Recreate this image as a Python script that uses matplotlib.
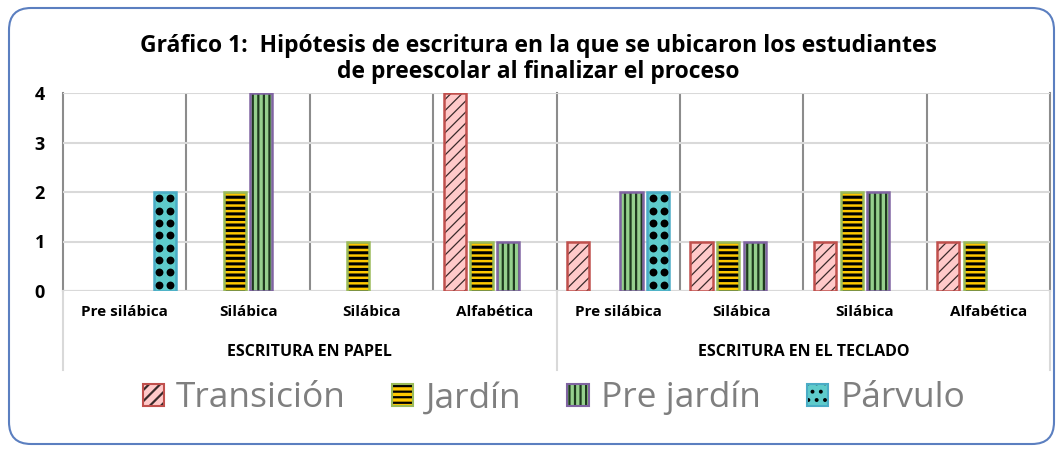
import numpy as np
import matplotlib
matplotlib.use("Agg")
import matplotlib.pyplot as plt
from matplotlib.patches import FancyBboxPatch, Patch
from matplotlib.lines import Line2D
from matplotlib.legend_handler import HandlerTuple
import matplotlib.transforms as mtransforms

# ---- data ----
categories = ["Pre silábica", "Silábica", "Silábica", "Alfabética",
              "Pre silábica", "Silábica", "Silábica", "Alfabética"]
groups = ["ESCRITURA EN PAPEL", "ESCRITURA EN EL TECLADO"]
series_names = ["Transición", "Jardín", "Pre jardín", "Párvulo"]
transicion = [0, 0, 0, 4, 1, 1, 1, 1]
jardin = [0, 2, 1, 1, 0, 1, 2, 1]
pre_jardin = [0, 4, 0, 1, 2, 1, 2, 0]
parvulo = [2, 0, 0, 0, 2, 0, 0, 0]
y_ticks = [0, 1, 2, 3, 4]
title = ("Gráfico 1:  Hipótesis de escritura en la que se ubicaron los estudiantes\n"
         "de preescolar al finalizar el proceso")

# ---- styles ----
fills = ["#ffc9c9", "#ffc800", "#96d08e", "#5ecbcb"]
borders = ["#c0504d", "#9bbb59", "#8064a2", "#4bacc6"]
hatch_colors = ["#3a2a2a", "#000000", "#1e3a1e", "#000000"]
hatches = ["///", "---", "|||", None]
hatch_lw = [0.9, 2.2, 1.6, 1.0]

plt.rcParams["font.family"] = ["Open Sans", "DejaVu Sans"]
plt.rcParams["hatch.linewidth"] = 1.6


def set_hatch_lw(patch, lw):
    if hasattr(patch, "set_hatch_linewidth"):
        patch.set_hatch_linewidth(lw)


W, H = 1063, 453
fig = plt.figure(figsize=(W / 100, H / 100), dpi=100)
ax = fig.add_axes([63 / W, (H - 291) / H, (1050 - 63) / W, (291 - 93) / H])

x = np.arange(len(categories))
pitch, width = 0.216, 0.18
offsets = (np.arange(4) - 1.5) * pitch
data = [transicion, jardin, pre_jardin, parvulo]

for i, vals in enumerate(data):
    vals = np.asarray(vals, dtype=float)
    keep = vals > 0
    xs = x[keep] + offsets[i]
    hs = vals[keep]
    bars = ax.bar(xs, hs, width=width, color=fills[i], edgecolor=hatch_colors[i],
                  hatch=hatches[i], linewidth=0, zorder=3)
    for p in bars:
        set_hatch_lw(p, hatch_lw[i])
    ax.bar(xs, hs, width=width, fill=False, edgecolor=borders[i],
           linewidth=1.8, zorder=4)
    if hatches[i] is None:
        # dotted pattern for the Párvulo bars
        for xc, h in zip(xs, hs):
            ys = np.arange(0.125, h, 0.25)
            for dx in (-0.25, 0.25):
                ax.scatter(np.full_like(ys, xc + dx * width), ys, s=32,
                           color="black", zorder=5, linewidths=0)

ax.set_xlim(-0.5, len(categories) - 0.5)
ax.set_ylim(0, 4)
ax.set_yticks(y_ticks)
ax.set_yticklabels([str(t) for t in y_ticks], fontsize=13, fontweight="bold")
ax.set_xticks(x)
ax.set_xticklabels(categories, fontsize=11, fontweight="bold")
ax.tick_params(axis="both", length=0)
ax.tick_params(axis="x", pad=10)
ax.tick_params(axis="y", pad=13)
for s in ax.spines.values():
    s.set_visible(False)
ax.yaxis.grid(True, color="#d9d9d9", linewidth=1.5, zorder=0)
ax.axhline(0, color="#d9d9d9", linewidth=1.5, zorder=2)

# category separators
for b in np.arange(0.5, len(categories) - 1, 1.0):
    if b == 3.5:
        continue
    ax.axvline(b, color="#8c8c8c", linewidth=1.5, zorder=1)

# group separators extending below the axis
trans = mtransforms.blended_transform_factory(ax.transData, ax.transAxes)
for b in (-0.5, 3.5, len(categories) - 0.5):
    ax.add_line(Line2D([b, b], [1, 0], transform=trans, color="#8c8c8c",
                       linewidth=1.5, zorder=1, clip_on=False))
    ax.add_line(Line2D([b, b], [0, -0.4], transform=trans, color="#d9d9d9",
                       linewidth=1.5, zorder=1, clip_on=False))

for gi, g in enumerate(groups):
    ax.text(gi * 4 + 1.5, -0.31, g, transform=trans, ha="center", va="center",
            fontsize=11.5, fontweight="bold")

fig.text(538 / W, 1 - 59 / H, title, ha="center", va="center",
         fontsize=16.5, fontweight="bold", linespacing=1.12)

# legend
handles = []
for i in range(4):
    h_fill = Patch(facecolor=fills[i], edgecolor=hatch_colors[i],
                   hatch=hatches[i] if hatches[i] else "..", linewidth=0)
    set_hatch_lw(h_fill, hatch_lw[i])
    h_edge = Patch(fill=False, edgecolor=borders[i], linewidth=1.5)
    handles.append((h_fill, h_edge))
fig.legend(handles, series_names, loc="center", bbox_to_anchor=(554 / W, 1 - 398 / H),
           ncol=4, frameon=False, fontsize=25.5, labelcolor="#7f7f7f",
           handlelength=0.6, handleheight=0.6, handletextpad=0.35,
           columnspacing=1.3, handler_map={tuple: HandlerTuple(ndivide=1)})

# rounded outer border
border = FancyBboxPatch((9, 9), W - 18, H - 17,
                        boxstyle="round,pad=0,rounding_size=22",
                        transform=mtransforms.IdentityTransform(),
                        facecolor="none", edgecolor="#5b7fc0", linewidth=1.5)
fig.add_artist(border)

fig.savefig("out.png", dpi=100)
